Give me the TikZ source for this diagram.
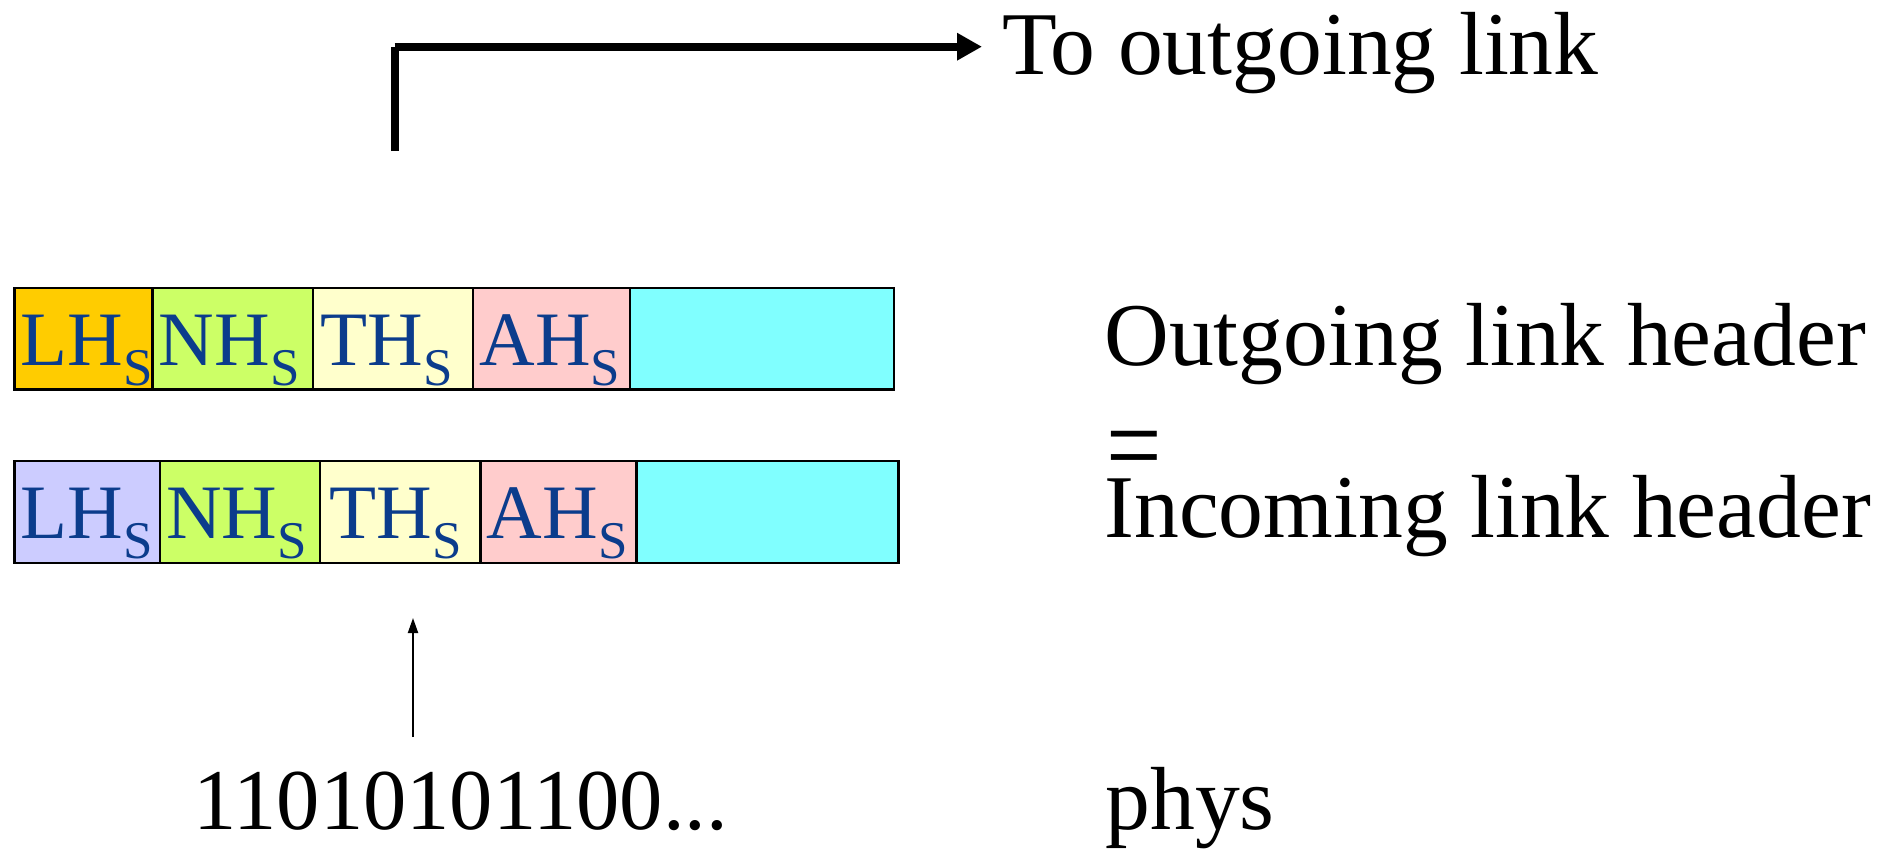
\documentclass[tikz,border=0pt]{standalone}
\usepackage{fontspec}
\setmainfont{Liberation Serif}
\usetikzlibrary{arrows.meta,fit}

\definecolor{lhgold}{HTML}{FFCC00}
\definecolor{lhlilac}{HTML}{CCCCFF}
\definecolor{nhgreen}{HTML}{CCFF66}
\definecolor{thcream}{HTML}{FFFFCC}
\definecolor{ahpink}{HTML}{FFCCCC}
\definecolor{paycyan}{HTML}{80FFFF}
\definecolor{hdrblue}{HTML}{0B3C8C}

% header field label with a small "S" subscript
\newcommand\hdrtag[1]{#1\raisebox{-10pt}{\fontsize{26.5}{28}\selectfont S}}

\tikzset{
  field/.style={draw=black, line width=1.25pt, inner sep=0pt},
  fieldtag/.style={anchor=base west, inner sep=0pt, text=hdrblue,
                   font=\fontsize{38.5}{40}\selectfont},
  caption/.style={anchor=base west, inner sep=0pt,
                  font=\fontsize{44.8}{46}\selectfont},
  outlink/.style={line width=4pt, -{Triangle[length=12.5pt,width=13pt]}},
  inlink/.style={line width=1pt, -{Triangle[length=7.5pt,width=5pt]}},
}

\begin{document}
\begin{tikzpicture}[x=0.5pt, y=-0.5pt]
  \useasboundingbox (0,0) rectangle (1894,851);

  % outgoing frame
  \node[field, fill=lhgold,   fit={(14.5,288) (152.5,389.5)}] (t1) {};
  \node[field, fill=nhgreen,  fit={(152.5,288) (313,389.5)}]  (t2) {};
  \node[field, fill=thcream,  fit={(313,288) (473,389.5)}]    (t3) {};
  \node[field, fill=ahpink,   fit={(473,288) (630,389.5)}]    (t4) {};
  \node[field, fill=paycyan,  fit={(630,288) (894,389.5)}]    (t5) {};
  \node[fieldtag] (t1l) at (20.5,365)  {\hdrtag{LH}};
  \node[fieldtag] (t2l) at (158.5,365) {\hdrtag{NH}};
  \node[fieldtag] (t3l) at (320,365)   {\hdrtag{TH}};
  \node[fieldtag] (t4l) at (479,365)   {\hdrtag{AH}};

  % incoming frame
  \node[field, fill=lhlilac,  fit={(14.5,461) (160,563)}]     (b1) {};
  \node[field, fill=nhgreen,  fit={(160,461) (320,563)}]      (b2) {};
  \node[field, fill=thcream,  fit={(320,461) (480.5,563)}]    (b3) {};
  \node[field, fill=ahpink,   fit={(480.5,461) (636.5,563)}]  (b4) {};
  \node[field, fill=paycyan,  fit={(636.5,461) (898.5,563)}]  (b5) {};
  \node[fieldtag] (b1l) at (20.5,538)  {\hdrtag{LH}};
  \node[fieldtag] (b2l) at (166,538)   {\hdrtag{NH}};
  \node[fieldtag] (b3l) at (329,538)   {\hdrtag{TH}};
  \node[fieldtag] (b4l) at (486.5,538) {\hdrtag{AH}};

  % captions
  \node[caption] (to)   at (1002,74)   {To outgoing link};
  \node[caption] (out)  at (1104,365)  {Outgoing link header};
  \node[caption] (eq)   at (1106,461.5)
       {\raisebox{-11.5pt}[11pt][0pt]{\scalebox{1.1}[1.3]{=}}};
  \node[caption] (inc)  at (1104,537.5){Incoming link header};
  \node[caption, font=\fontsize{43.3}{45}\selectfont] (bits) at (193,829) {11010101100...};
  \node[caption] (phys) at (1105,829)  {phys};

  % path to the outgoing link
  \coordinate (upfoot) at (394.5,151);
  \coordinate (corner) at (394.5,46.7);
  \draw[line width=4pt] (upfoot) -- (corner);
  \draw[outlink] (corner) -- ([xshift=-10pt]corner -| to.west);

  % bits arriving from the physical layer
  \coordinate (bitfoot) at (413,737);
  \coordinate (bittip) at (413,618);
  \draw[inlink] (bitfoot) -- (bittip);
\end{tikzpicture}
\end{document}
